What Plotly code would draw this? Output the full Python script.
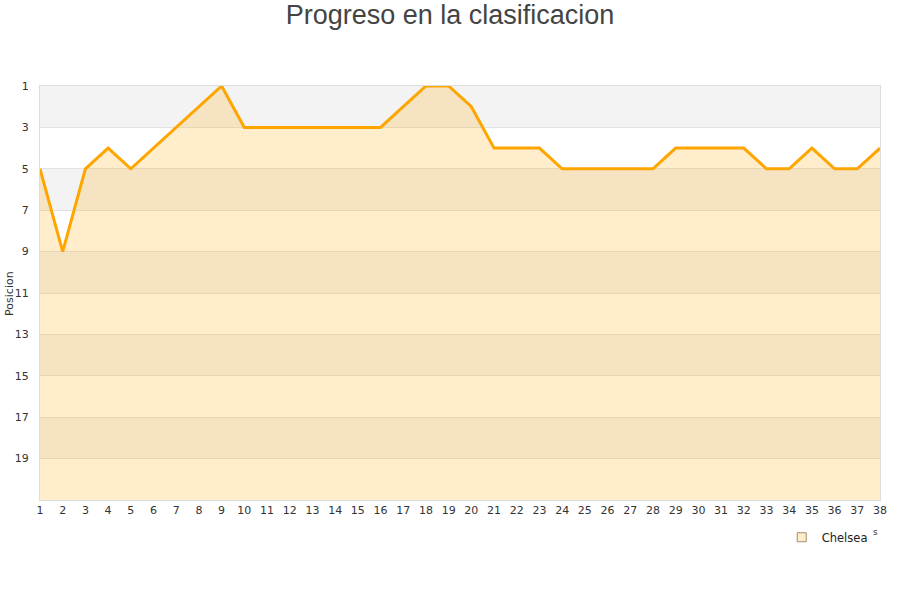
import plotly.graph_objects as go

jornadas = list(range(1, 39))
posiciones = [5, 9, 5, 4, 5, 4, 3, 2, 1, 3, 3, 3, 3, 3, 3, 3, 2, 1, 1, 2,
              4, 4, 4, 5, 5, 5, 5, 5, 4, 4, 4, 4, 5, 5, 4, 5, 5, 4]
fondo = [21] * len(jornadas)
y_ticks = [1, 3, 5, 7, 9, 11, 13, 15, 17, 19]
bandas = [(1, 3), (5, 7), (9, 11), (13, 15), (17, 19)]
equipo = "Chelsea"

fig = go.Figure()
fig.add_trace(go.Scatter(x=jornadas, y=fondo, mode="lines", line=dict(width=0),
                         showlegend=False, hoverinfo="skip"))
fig.add_trace(go.Scatter(x=jornadas, y=posiciones, mode="lines",
                         line=dict(color="#FFA500", width=3),
                         fill="tonexty", fillcolor="rgba(255,165,0,0.2)",
                         showlegend=False, name=equipo))
fig.add_trace(go.Scatter(x=[None], y=[None], mode="markers", name=equipo,
                         marker=dict(symbol="square", size=9, color="#ffecc9",
                                     line=dict(color="#a08c6c", width=1))))

for a, b in bandas:
    fig.add_shape(type="rect", xref="paper", yref="y", x0=0, x1=1, y0=a, y1=b,
                  fillcolor="#f3f3f3", line=dict(width=0), layer="below")

fig.update_layout(
    width=900, height=600,
    paper_bgcolor="white", plot_bgcolor="white",
    margin=dict(l=40, r=20, t=86, b=100),
    title=dict(text="Progreso en la clasificacion", x=0.5, xanchor="center",
               y=0.975, yanchor="middle",
               font=dict(family="Liberation Sans, Arial", size=27, color="#444444")),
    font=dict(family="DejaVu Sans", size=11, color="#444444"),
    legend=dict(x=0.883, y=-0.09, xanchor="left", yanchor="middle",
                font=dict(family="DejaVu Sans", size=11.5, color="#222222"),
                bgcolor="rgba(0,0,0,0)"),
    annotations=[
        dict(text="Posicion", xref="paper", yref="paper", x=-0.037, y=0.5,
             xanchor="center", yanchor="middle",
             textangle=-90, showarrow=False,
             font=dict(family="DejaVu Sans", size=11, color="#333333")),
        dict(text="s", xref="paper", yref="paper", x=1.0, y=-0.094,
             showarrow=False, font=dict(family="DejaVu Sans", size=9, color="#333333")),
    ],
)
fig.update_xaxes(range=[1, 38], tickmode="array", tickvals=jornadas,
                 ticktext=[str(j) for j in jornadas], showgrid=False,
                 showline=True, linecolor="#dddddd", linewidth=1, mirror=True,
                 ticks="", zeroline=False, automargin=False,
                 tickfont=dict(family="DejaVu Sans", size=11, color="#333333"))
fig.update_yaxes(range=[21, 1], tickmode="array", tickvals=y_ticks,
                 ticktext=[str(t) for t in y_ticks], showgrid=True,
                 gridcolor="#e2e2e2", gridwidth=1,
                 showline=True, linecolor="#dddddd", linewidth=1, mirror=True,
                 ticks="", zeroline=False, ticklabelstandoff=8, automargin=False,
                 tickfont=dict(family="DejaVu Sans", size=11, color="#333333"))

fig.write_html("out.html", config={"displayModeBar": False},
               post_script="document.body.style.margin='0';")
